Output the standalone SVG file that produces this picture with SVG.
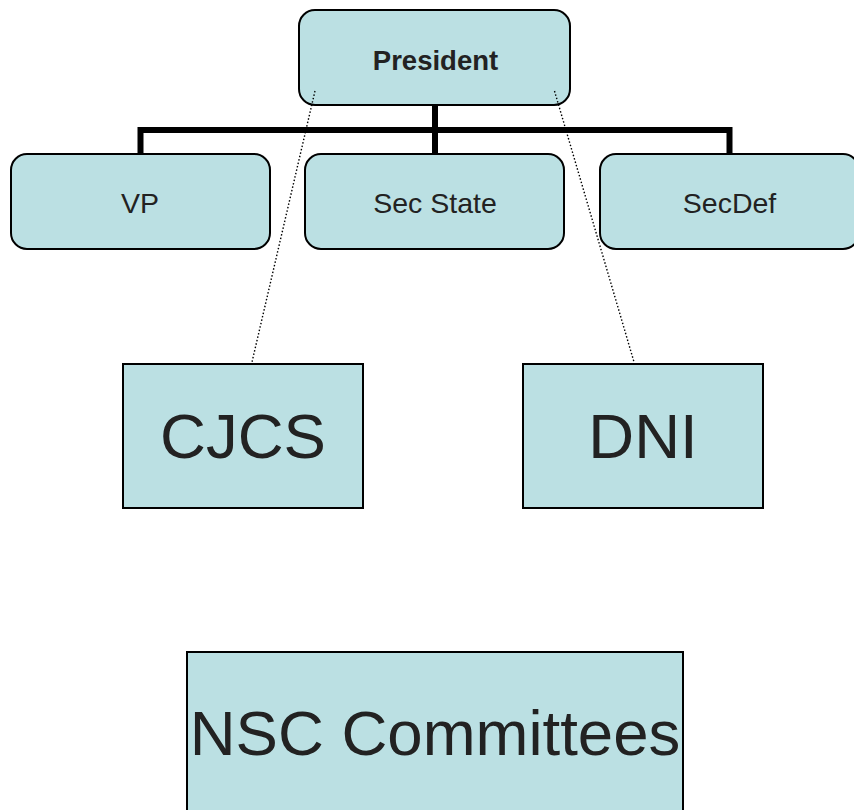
<svg xmlns="http://www.w3.org/2000/svg" width="854" height="810" viewBox="0 0 854 810">
<style>
.box{fill:#bbe0e3;stroke:#000;stroke-width:2}
.t{font-family:"Liberation Sans",Arial,sans-serif;fill:#222;text-anchor:middle}
.s{font-size:28.5px}
.b{font-size:27.5px;font-weight:bold}
.l{font-size:63.5px}
.tree{fill:none;stroke:#000;stroke-width:6;stroke-linejoin:miter}
.dot{fill:none;stroke:#000;stroke-width:1.4;stroke-dasharray:1.5 2}
</style>
<rect width="854" height="810" fill="#fff"/>
<g id="president">
<rect class="box" x="299" y="10" width="271" height="95" rx="16"/>
<text class="t b" x="435.5" y="70">President</text>
</g>
<g id="vp">
<rect class="box" x="11" y="154" width="259" height="95" rx="16"/>
<text class="t s" x="140" y="213">VP</text>
</g>
<g id="secstate">
<rect class="box" x="305" y="154" width="259" height="95" rx="16"/>
<text class="t s" x="435" y="213">Sec State</text>
</g>
<g id="secdef">
<rect class="box" x="600" y="154" width="259" height="95" rx="16"/>
<text class="t s" x="729.5" y="213">SecDef</text>
</g>
<g id="cjcs">
<rect class="box" x="123" y="364" width="240" height="144"/>
<text class="t l" x="243" y="458">CJCS</text>
</g>
<g id="dni">
<rect class="box" x="523" y="364" width="240" height="144"/>
<text class="t l" x="643" y="458">DNI</text>
</g>
<g id="nsc">
<rect class="box" x="187" y="652" width="496" height="170"/>
<text class="t l" x="435" y="755">NSC Committees</text>
</g>
<g id="connectors">
<path class="tree" d="M435 106 V130 M140.5 153 V130 H729.5 V153 M435 130 V153"/>
<line class="dot" x1="315" y1="91" x2="252" y2="362"/>
<line class="dot" x1="554.5" y1="91" x2="634" y2="362"/>
</g>
</svg>
